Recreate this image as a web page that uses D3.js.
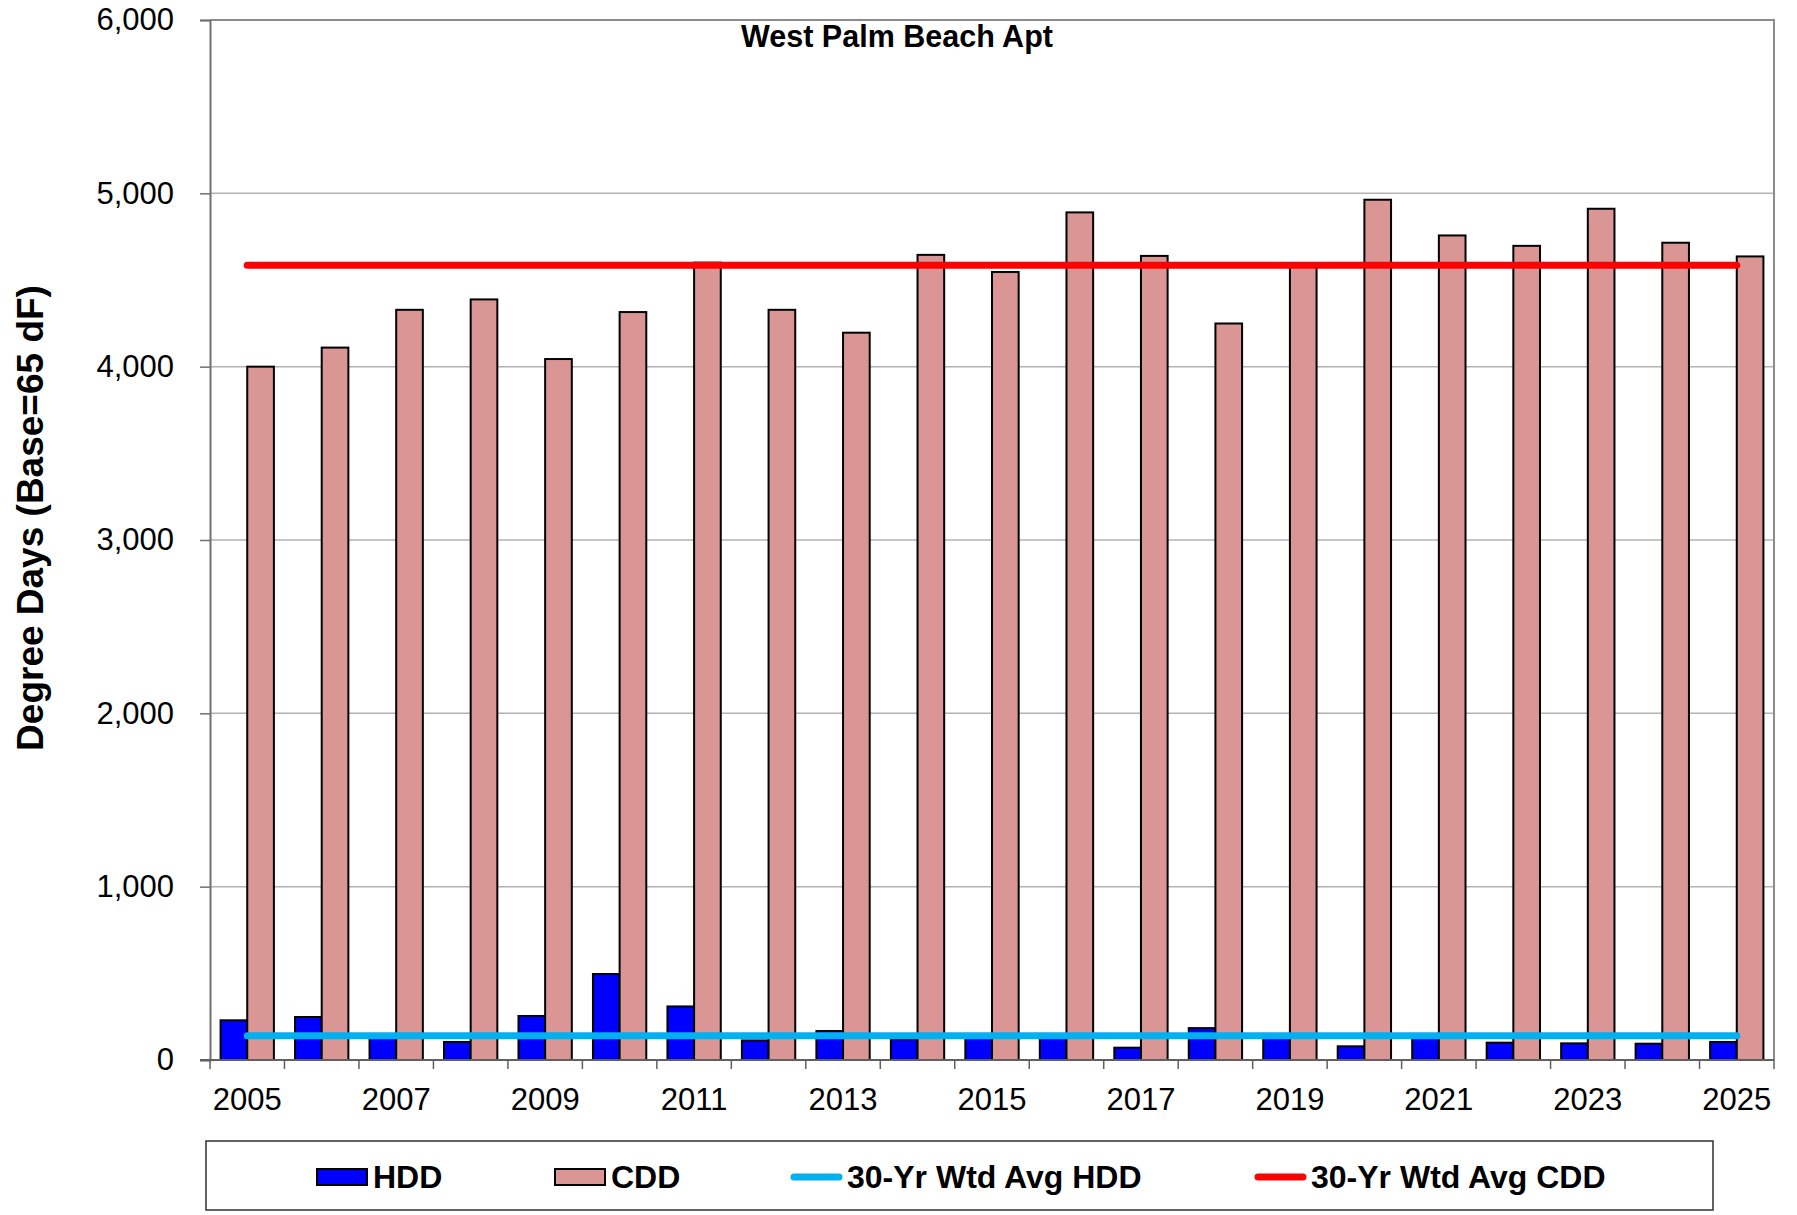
<!DOCTYPE html>
<html>
<head>
<meta charset="utf-8">
<script src="https://cdn.jsdelivr.net/npm/d3@7"></script>
<style>
  body { margin: 0; background: #fff; }
  text { font-family: "Liberation Sans", Arial, sans-serif; }
</style>
</head>
<body>
<svg id="chart" width="1797" height="1215"></svg>
<script>
// data
let years = d3.range(2005, 2026)
let hdd = [229, 248, 130, 104, 254, 496, 309, 113, 167, 119, 135, 140, 71, 184, 145, 79, 130, 100, 96, 94, 104]
let cdd = [4000, 4110, 4328, 4388, 4044, 4315, 4600, 4328, 4196, 4645, 4546, 4890, 4639, 4249, 4595, 4963, 4757, 4697, 4911, 4715, 4636]
let avg_hdd = 140
let avg_cdd = 4585
let y_ticks = [0, 1000, 2000, 3000, 4000, 5000, 6000]
let legend_items = [
  { label: "HDD", kind: "bar", fill: "#0000ff" },
  { label: "CDD", kind: "bar", fill: "#da9694" },
  { label: "30-Yr Wtd Avg HDD", kind: "line", fill: "#00b0f0" },
  { label: "30-Yr Wtd Avg CDD", kind: "line", fill: "#ff0000" }
]

let margin = { left: 210, right: 1774, top: 20, bottom: 1060 },
  svg = d3.select("#chart")

let scales = {
  x: d3.scaleBand().domain(years).range([margin.left, margin.right]).padding(0),
  y: d3.scaleLinear().domain([0, 6000]).range([margin.bottom, margin.top])
}
let bw = scales.x.bandwidth() * 0.358

// grid lines
svg.append("g")
  .selectAll("line")
  .data(y_ticks.filter(d => d > 0 && d < 6000)).enter()
  .append("line")
  .attr("x1", margin.left).attr("x2", margin.right)
  .attr("y1", d => scales.y(d)).attr("y2", d => scales.y(d))
  .attr("stroke", "#b3b3b3").attr("stroke-width", 1.5)

// plot border (top + right)
svg.append("path")
  .attr("d", `M${margin.left},${margin.top}H${margin.right}V${margin.bottom}`)
  .attr("fill", "none").attr("stroke", "#8c8c8c").attr("stroke-width", 2)

// bars
let bars = svg.append("g").attr("stroke", "#000").attr("stroke-width", 2)
bars.selectAll("rect.hdd")
  .data(years).enter()
  .append("rect")
  .attr("x", (d) => scales.x(d) + scales.x.bandwidth() / 2 - bw)
  .attr("y", (d, i) => scales.y(hdd[i]))
  .attr("width", bw)
  .attr("height", (d, i) => scales.y(0) - scales.y(hdd[i]))
  .attr("fill", "#0000ff")
bars.selectAll("rect.cdd")
  .data(years).enter()
  .append("rect")
  .attr("x", (d) => scales.x(d) + scales.x.bandwidth() / 2)
  .attr("y", (d, i) => scales.y(cdd[i]))
  .attr("width", bw)
  .attr("height", (d, i) => scales.y(0) - scales.y(cdd[i]))
  .attr("fill", "#da9694")

// y axis
let yAxis = svg.append("g")
  .attr("transform", `translate(${margin.left},0)`)
  .call(d3.axisLeft(scales.y).tickValues(y_ticks).tickSize(10).tickPadding(26).tickFormat(d3.format(",")))
yAxis.select(".domain").attr("stroke", "#707070").attr("stroke-width", 2)
yAxis.selectAll(".tick line").attr("stroke", "#707070").attr("stroke-width", 1.5)
yAxis.selectAll(".tick text").attr("font-size", 31).attr("fill", "#000")
  .attr("font-family", "Liberation Sans, Arial, sans-serif")

// x axis: ticks at category boundaries, labels every other year
let xAxis = svg.append("g")
  .attr("transform", `translate(0,${margin.bottom})`)
xAxis.append("line")
  .attr("x1", margin.left - 10).attr("x2", margin.right)
  .attr("stroke", "#606060").attr("stroke-width", 2)
xAxis.selectAll("line.tk")
  .data(years.concat([2026])).enter()
  .append("line")
  .attr("x1", d => d == 2026 ? margin.right : scales.x(d))
  .attr("x2", d => d == 2026 ? margin.right : scales.x(d))
  .attr("y1", 0).attr("y2", 9)
  .attr("stroke", "#606060").attr("stroke-width", 1.5)
xAxis.selectAll("text")
  .data(years.filter(d => d % 2 == 1)).enter()
  .append("text")
  .attr("x", d => scales.x(d) + scales.x.bandwidth() / 2)
  .attr("y", 50)
  .attr("text-anchor", "middle")
  .attr("font-size", 31)
  .text(d => d)

// average lines
let line = d3.line()
  .x(d => scales.x(d[0]) + scales.x.bandwidth() / 2)
  .y(d => scales.y(d[1]))
svg.append("path")
  .attr("d", line([[years[0], avg_cdd], [years[years.length - 1], avg_cdd]]))
  .attr("stroke", "#ff0000").attr("stroke-width", 7).attr("stroke-linecap", "round")
svg.append("path")
  .attr("d", line([[years[0], avg_hdd], [years[years.length - 1], avg_hdd]]))
  .attr("stroke", "#00b0f0").attr("stroke-width", 7).attr("stroke-linecap", "round")

// titles
svg.append("text")
  .attr("x", 897).attr("y", 47)
  .attr("text-anchor", "middle")
  .attr("font-size", 30.5).attr("font-weight", "bold")
  .text("West Palm Beach Apt")
svg.append("text")
  .attr("transform", "translate(43,518) rotate(-90)")
  .attr("text-anchor", "middle")
  .attr("font-size", 37).attr("font-weight", "bold")
  .text("Degree Days (Base=65 dF)")

// legend
let legend = svg.append("g")
legend.append("rect")
  .attr("x", 206).attr("y", 1141).attr("width", 1507).attr("height", 69)
  .attr("fill", "#fff").attr("stroke", "#303030").attr("stroke-width", 1.5)
let lx = [317, 555, 791, 1255]
let items = legend.selectAll("g.item")
  .data(legend_items).enter()
  .append("g")
  .attr("transform", (d, i) => `translate(${lx[i]},1177)`)
items.filter(d => d.kind == "bar").append("rect")
  .attr("x", 0).attr("y", -8).attr("width", 50).attr("height", 16)
  .attr("fill", d => d.fill).attr("stroke", "#000").attr("stroke-width", 2)
items.filter(d => d.kind == "line").append("line")
  .attr("x1", 3).attr("x2", 48)
  .attr("stroke", d => d.fill).attr("stroke-width", 7).attr("stroke-linecap", "round")
items.append("text")
  .attr("x", 56).attr("y", 11)
  .attr("font-size", 32).attr("font-weight", "bold")
  .text(d => d.label)
</script>
</body>
</html>
